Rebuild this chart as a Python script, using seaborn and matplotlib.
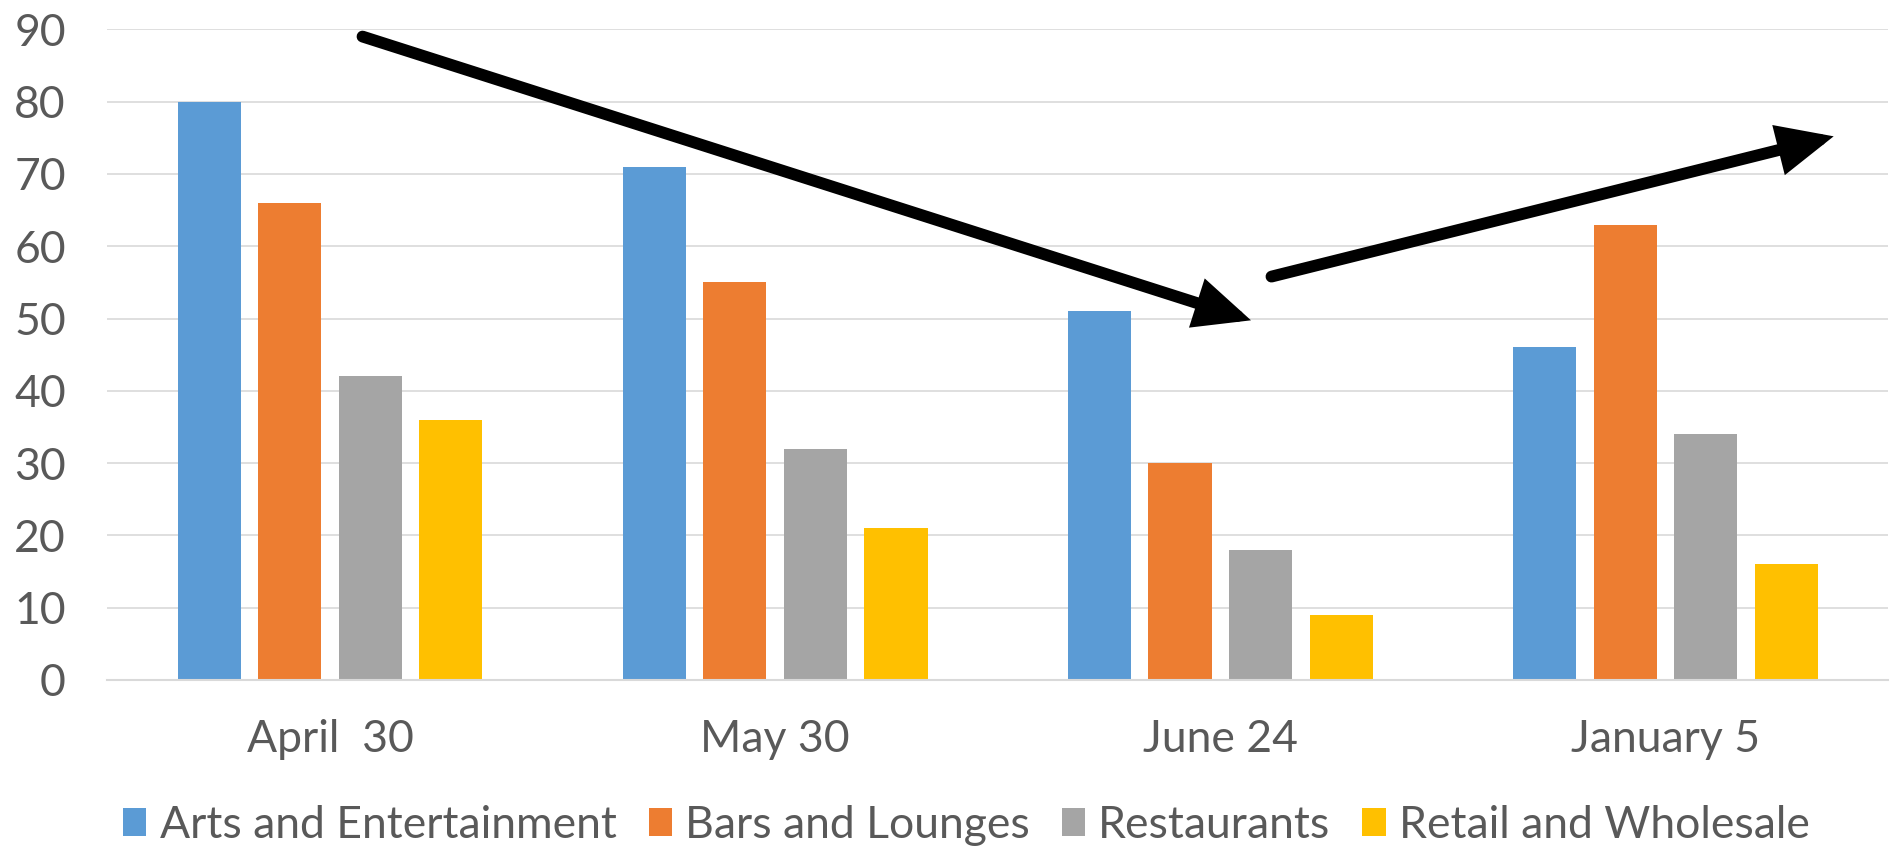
import matplotlib
matplotlib.use("Agg")
import matplotlib.pyplot as plt
import seaborn as sns
import pandas as pd
from matplotlib.patches import Patch

categories = ["April  30", "May 30", "June 24", "January 5"]
series_names = ["Arts and Entertainment", "Bars and Lounges", "Restaurants", "Retail and Wholesale"]
arts = [80, 71, 51, 46]
bars = [66, 55, 30, 63]
restaurants = [42, 32, 18, 34]
retail = [36, 21, 9, 16]
colors = ["#5B9BD5", "#ED7D31", "#A5A5A5", "#FFC000"]
y_ticks = [0, 10, 20, 30, 40, 50, 60, 70, 80, 90]

rows = []
for name, vals in zip(series_names, [arts, bars, restaurants, retail]):
    for c, v in zip(categories, vals):
        rows.append({"Date": c, "Series": name, "Value": v})
df = pd.DataFrame(rows)

sns.set_theme(style="white")
FONT = "Lato"
plt.rcParams["font.family"] = [FONT, "DejaVu Sans"]
TXT = "#595959"
GRID = "#D9D9D9"
FS = 32

fig = plt.figure(figsize=(18.95, 8.5), dpi=100)
ax = fig.add_axes([0.0567, 0.2, 0.9396, 0.7655])

sns.barplot(data=df, x="Date", y="Value", hue="Series", order=categories,
            hue_order=series_names, palette=colors, width=0.724, gap=0.217,
            saturation=1, ax=ax, legend=False, edgecolor="none")

ax.set_xlim(-0.5, 3.5)
ax.set_ylim(0, 90)
ax.set_yticks(y_ticks)
ax.yaxis.grid(True, color=GRID, lw=1.2)
ax.set_axisbelow(True)
ax.set_xlabel("")
ax.set_ylabel("")
for s in ["top", "right", "left"]:
    ax.spines[s].set_visible(False)
ax.spines["bottom"].set_color(GRID)
ax.spines["bottom"].set_linewidth(1.5)
ax.set_xticks([-0.5, 0.5, 1.5, 2.5, 3.5], minor=True)
ax.tick_params(axis="x", which="minor", length=11, width=1.2, color=GRID, direction="out")
ax.tick_params(axis="x", which="major", length=0, pad=28, labelsize=FS, labelcolor=TXT)
ax.tick_params(axis="y", length=0, pad=30, labelsize=FS, labelcolor=TXT)

# trend arrows
astyle = dict(arrowstyle="-|>,head_length=1.1,head_width=0.5",
              lw=8.5, color="black", shrinkA=0, shrinkB=0,
              mutation_scale=24, joinstyle="miter")
ax.annotate("", xy=(2.069, 49.75), xytext=(0.073, 89.0),
            arrowprops=astyle, annotation_clip=False)
ax.annotate("", xy=(3.378, 75.2), xytext=(2.115, 55.8),
            arrowprops=astyle, annotation_clip=False)

handles = [Patch(facecolor=c, edgecolor="none") for c in colors]
leg = fig.legend(handles, series_names, loc="center", bbox_to_anchor=(0.51, 1 - 825 / 850),
                 ncol=4, frameon=False, fontsize=FS, handlelength=0.52, handleheight=0.6,
                 handletextpad=0.3, columnspacing=0.72, labelcolor=TXT)

fig.savefig("out.png", dpi=100)
